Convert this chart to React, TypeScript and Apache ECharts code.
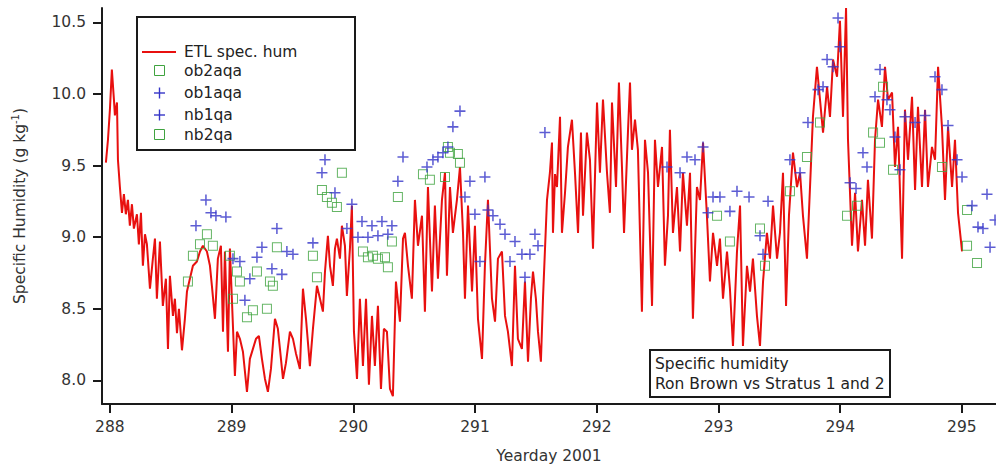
import React, { useEffect, useRef } from 'react';
import * as echarts from 'echarts';

const xTicks = [288, 289, 290, 291, 292, 293, 294, 295];
const yTicks = [8.0, 8.5, 9.0, 9.5, 10.0, 10.5];

// ETL specific humidity (yearday, g/kg)
const etlSpecHum: [number, number][] = [
  [287.967, 9.52], [287.984, 9.68], [288.0, 9.89], [288.016, 10.17], [288.033, 9.96], [288.041, 9.85],
  [288.058, 9.94], [288.066, 9.54], [288.082, 9.35], [288.099, 9.17], [288.115, 9.3], [288.131, 9.16],
  [288.148, 9.26], [288.164, 9.08], [288.181, 9.23], [288.197, 9.06], [288.222, 9.16], [288.238, 8.95],
  [288.255, 9.17], [288.271, 8.8], [288.288, 9.02], [288.304, 8.95], [288.329, 8.64], [288.353, 8.85],
  [288.37, 8.99], [288.386, 8.57], [288.411, 8.97], [288.435, 8.52], [288.46, 8.71], [288.477, 8.22],
  [288.493, 8.73], [288.518, 8.45], [288.534, 8.57], [288.551, 8.33], [288.567, 8.5], [288.592, 8.21],
  [288.616, 8.43], [288.633, 8.62], [288.657, 8.71], [288.682, 8.8], [288.715, 8.83], [288.74, 8.9],
  [288.764, 8.94], [288.797, 8.9], [288.822, 8.8], [288.838, 8.66], [288.863, 8.43], [288.887, 8.85],
  [288.912, 8.94], [288.929, 8.34], [288.945, 8.9], [288.97, 8.2], [288.986, 8.92], [289.002, 8.57],
  [289.027, 8.03], [289.044, 8.34], [289.068, 8.29], [289.093, 8.2], [289.126, 7.92], [289.15, 8.15],
  [289.175, 8.22], [289.2, 8.29], [289.224, 8.31], [289.249, 8.15], [289.274, 8.01], [289.298, 7.92],
  [289.323, 8.08], [289.356, 8.43], [289.38, 8.36], [289.397, 8.22], [289.422, 8.01], [289.446, 8.12],
  [289.479, 8.34], [289.504, 8.29], [289.528, 8.19], [289.561, 8.08], [289.586, 8.64], [289.611, 8.43],
  [289.643, 8.1], [289.668, 8.36], [289.701, 8.66], [289.726, 8.57], [289.75, 8.48], [289.767, 8.76],
  [289.791, 9.01], [289.808, 8.8], [289.832, 8.66], [289.849, 8.92], [289.865, 8.99], [289.89, 8.85],
  [289.906, 9.08], [289.931, 8.94], [289.947, 8.59], [289.972, 8.92], [289.988, 9.22], [290.005, 8.34],
  [290.03, 8.01], [290.054, 8.57], [290.079, 8.1], [290.104, 8.57], [290.128, 7.97], [290.153, 8.45],
  [290.177, 8.1], [290.202, 8.52], [290.227, 7.94], [290.251, 8.36], [290.276, 8.34], [290.301, 7.94],
  [290.325, 7.89], [290.35, 8.69], [290.383, 8.41], [290.408, 8.99], [290.424, 9.03], [290.449, 8.8],
  [290.481, 8.57], [290.506, 9.26], [290.531, 8.94], [290.564, 9.15], [290.588, 8.48], [290.613, 9.35],
  [290.646, 8.62], [290.67, 9.22], [290.695, 8.71], [290.728, 9.26], [290.753, 9.45], [290.769, 8.73],
  [290.794, 9.35], [290.818, 9.03], [290.851, 9.26], [290.876, 9.49], [290.901, 9.03], [290.917, 8.57],
  [290.942, 9.22], [290.975, 8.62], [290.999, 9.08], [291.024, 8.43], [291.057, 8.15], [291.081, 8.8],
  [291.106, 9.26], [291.139, 8.57], [291.164, 8.41], [291.188, 8.85], [291.221, 8.9], [291.246, 8.45],
  [291.27, 8.34], [291.303, 8.1], [291.328, 8.8], [291.352, 8.29], [291.385, 8.22], [291.41, 8.69],
  [291.435, 8.13], [291.459, 8.57], [291.476, 8.76], [291.5, 8.57], [291.517, 8.34], [291.541, 8.13],
  [291.558, 8.57], [291.591, 9.26], [291.615, 9.45], [291.632, 9.66], [291.64, 9.03], [291.657, 9.44],
  [291.673, 9.35], [291.698, 9.84], [291.714, 9.03], [291.739, 9.31], [291.763, 9.63], [291.796, 9.82],
  [291.821, 9.45], [291.846, 9.03], [291.87, 9.73], [291.887, 9.15], [291.919, 9.73], [291.944, 9.54],
  [291.969, 8.92], [292.002, 9.94], [292.026, 9.45], [292.051, 9.96], [292.084, 9.45], [292.108, 9.17],
  [292.125, 9.94], [292.158, 9.35], [292.182, 10.08], [292.207, 9.49], [292.224, 9.03], [292.256, 9.73],
  [292.273, 10.08], [292.289, 9.61], [292.314, 9.82], [292.338, 9.61], [292.371, 8.48], [292.396, 9.68],
  [292.421, 9.45], [292.454, 8.52], [292.478, 9.68], [292.503, 9.35], [292.536, 9.63], [292.56, 8.8],
  [292.585, 9.15], [292.601, 9.75], [292.626, 9.03], [292.659, 9.35], [292.684, 8.9], [292.708, 9.45],
  [292.741, 9.08], [292.766, 9.45], [292.79, 8.43], [292.823, 9.35], [292.848, 9.26], [292.873, 9.66],
  [292.905, 9.15], [292.93, 8.69], [292.955, 9.03], [292.988, 8.8], [293.012, 8.99], [293.037, 8.57],
  [293.07, 8.9], [293.094, 8.64], [293.119, 8.24], [293.152, 8.9], [293.177, 9.22], [293.201, 8.24],
  [293.234, 8.8], [293.259, 8.62], [293.283, 8.85], [293.316, 8.45], [293.341, 8.24], [293.366, 8.69],
  [293.398, 9.03], [293.423, 8.85], [293.448, 9.22], [293.481, 8.85], [293.505, 9.03], [293.53, 9.45],
  [293.555, 8.52], [293.579, 9.15], [293.612, 9.59], [293.645, 9.35], [293.67, 9.45], [293.694, 9.15],
  [293.727, 8.85], [293.752, 9.35], [293.776, 9.84], [293.809, 10.19], [293.834, 9.96], [293.859, 9.73],
  [293.892, 10.05], [293.916, 9.84], [293.941, 10.24], [293.974, 10.12], [293.998, 10.51], [294.023, 9.84],
  [294.048, 10.6], [294.064, 9.68], [294.097, 8.94], [294.122, 9.31], [294.146, 8.9], [294.179, 9.26],
  [294.204, 8.94], [294.228, 9.4], [294.261, 8.99], [294.286, 9.68], [294.311, 9.96], [294.343, 9.77],
  [294.368, 10.19], [294.393, 9.96], [294.426, 10.01], [294.45, 9.49], [294.475, 9.77], [294.508, 8.85],
  [294.532, 9.89], [294.557, 9.54], [294.59, 9.98], [294.615, 9.33], [294.639, 9.91], [294.672, 9.35],
  [294.697, 9.89], [294.721, 9.35], [294.754, 9.63], [294.779, 9.54], [294.804, 10.19], [294.836, 9.77],
  [294.861, 9.26], [294.886, 9.77], [294.919, 9.35], [294.943, 9.68], [294.968, 9.17], [295.001, 8.9],
];

// Stratus buoy samples (yearday, g/kg)
const ob2aqa: [number, number][] = [
  [288.641, 8.69], [288.682, 8.87], [288.74, 8.95], [288.797, 9.02], [288.846, 8.94], [288.986, 8.87],
  [289.011, 8.57], [289.044, 8.76], [289.068, 8.69], [289.126, 8.44], [289.175, 8.49], [289.208, 8.76],
  [289.29, 8.5], [289.315, 8.69], [289.339, 8.66], [289.372, 8.93], [289.668, 8.87], [289.701, 8.72],
  [289.742, 9.33], [289.783, 9.28], [289.824, 9.24], [289.865, 9.21], [289.906, 9.45], [290.079, 8.9],
  [290.12, 8.86], [290.161, 8.87], [290.202, 8.85], [290.26, 8.86], [290.284, 8.79], [290.317, 8.97],
  [290.366, 9.28], [290.572, 9.44], [290.629, 9.4], [290.753, 9.42], [290.777, 9.63], [290.794, 9.59],
  [290.859, 9.58], [290.876, 9.52],
];

const ob1aqa: [number, number][] = [
  [288.707, 9.08], [288.789, 9.26], [288.83, 9.17], [288.871, 9.15], [288.953, 9.14], [289.011, 8.85],
  [289.068, 8.83], [289.109, 8.56], [289.15, 8.71], [289.208, 8.86], [289.249, 8.93], [289.331, 8.78],
  [289.372, 9.06], [289.413, 8.74], [289.454, 8.9], [289.504, 8.88], [289.668, 8.96], [289.742, 9.45],
  [289.767, 9.54], [289.849, 9.31], [289.947, 9.06], [289.988, 9.23], [290.038, 9.0], [290.071, 9.11],
  [290.12, 9.0], [290.153, 9.08], [290.202, 9.01], [290.235, 9.11], [290.284, 9.02], [290.317, 9.08],
  [290.366, 9.39], [290.408, 9.56], [290.605, 9.49], [290.654, 9.54], [290.695, 9.56], [290.736, 9.59],
  [290.777, 9.63], [290.818, 9.77], [290.876, 9.88], [290.917, 9.28], [290.958, 9.39], [290.999, 9.16],
  [291.04, 8.83], [291.081, 9.42], [291.106, 9.19], [291.147, 9.15], [291.205, 9.09], [291.246, 9.02],
  [291.287, 8.83], [291.328, 8.97], [291.385, 8.88], [291.41, 8.72], [291.451, 8.88], [291.492, 9.02],
  [291.517, 8.94], [291.574, 9.73],
];

const nb1qa: [number, number][] = [
  [292.577, 9.49], [292.684, 9.45], [292.741, 9.56], [292.807, 9.54], [292.873, 9.63], [292.914, 9.17],
  [292.955, 9.28], [293.012, 9.28], [293.094, 9.18], [293.152, 9.32], [293.251, 9.28], [293.341, 9.01],
  [293.366, 8.88], [293.407, 9.25], [293.587, 9.54], [293.67, 9.45], [293.735, 9.8], [293.818, 10.03],
  [293.859, 10.05], [293.892, 10.24], [293.941, 10.19], [293.982, 10.53], [293.998, 10.33], [294.081, 9.38],
  [294.13, 9.34], [294.187, 9.59], [294.22, 9.49], [294.286, 9.98], [294.327, 10.17], [294.384, 9.96],
  [294.409, 9.89], [294.45, 9.7], [294.491, 9.47], [294.532, 9.84], [294.615, 9.8], [294.697, 9.85],
  [294.779, 10.12], [294.836, 10.03], [294.886, 9.78], [294.96, 9.54], [295.001, 9.42], [295.083, 9.22],
  [295.132, 9.07], [295.173, 9.06], [295.206, 9.3], [295.231, 8.93], [295.272, 9.12],
];

const nb2qa: [number, number][] = [
  [292.988, 9.15], [293.094, 8.97], [293.341, 9.06], [293.382, 8.8], [293.587, 9.32], [293.727, 9.56],
  [293.834, 9.8], [294.056, 9.15], [294.138, 9.22], [294.27, 9.73], [294.327, 9.66], [294.352, 10.05],
  [294.434, 9.47], [294.836, 9.49], [295.042, 9.19], [295.042, 8.94], [295.124, 8.82],
];

const seriesNames = ['ETL spec. hum', 'ob2aqa', 'ob1aqa', 'nb1qa', 'nb2qa'];
const noteLines = ['Specific humidity', 'Ron Brown vs Stratus 1 and 2'];

const RED = '#e8100f';
const GREEN = '#3fa33f';
const BLUE = '#3535c8';
const INK = '#1a1a1a';
const FONT = 'DejaVu Sans';
const FS = 15.5;

const SQUARE = 'path://M0,0H10V10H0Z M1,1V9H9V1H1Z';
const PLUS = 'path://M4.3,0H5.7V4.3H10V5.7H5.7V10H4.3V5.7H0V4.3H4.3Z';

export default function App() {
  const ref = useRef<HTMLDivElement>(null);
  useEffect(() => {
    if (!ref.current) return;
    const chart = echarts.init(ref.current, null, { renderer: 'svg' });

    const legendRows = [52, 71, 93, 115, 135];
    const legendGraphics: any[] = [
      {
        type: 'rect', shape: { x: 137, y: 17, width: 218, height: 133 },
        style: { fill: '#fff', stroke: INK, lineWidth: 2 }, silent: true, z: 10,
      },
      {
        type: 'line', shape: { x1: 142, y1: legendRows[0], x2: 176, y2: legendRows[0] },
        style: { stroke: RED, lineWidth: 2 }, silent: true, z: 11,
      },
    ];
    [1, 4].forEach((i) => {
      legendGraphics.push({
        type: 'rect', shape: { x: 154.5, y: legendRows[i] - 5.5, width: 10, height: 10 },
        style: { fill: 'none', stroke: GREEN, lineWidth: 1 }, silent: true, z: 11,
      });
    });
    [2, 3].forEach((i) => {
      legendGraphics.push(
        { type: 'line', shape: { x1: 154, y1: legendRows[i], x2: 165, y2: legendRows[i] }, style: { stroke: BLUE, lineWidth: 1.4 }, silent: true, z: 11 },
        { type: 'line', shape: { x1: 159.5, y1: legendRows[i] - 5.5, x2: 159.5, y2: legendRows[i] + 5.5 }, style: { stroke: BLUE, lineWidth: 1.4 }, silent: true, z: 11 },
      );
    });
    seriesNames.forEach((n, i) => {
      legendGraphics.push({
        type: 'text', x: 184, y: legendRows[i],
        style: { text: n, fill: '#222', font: `${FS}px "${FONT}"`, verticalAlign: 'middle', align: 'left' },
        silent: true, z: 11,
      });
    });

    chart.setOption({
      animation: false,
      backgroundColor: '#fff',
      grid: { left: 102, right: 0, top: 8, bottom: 63, containLabel: false },
      xAxis: {
        type: 'value', min: 287.935, max: 295.28,
        name: 'Yearday 2001', nameLocation: 'middle', nameGap: 44,
        nameTextStyle: { fontFamily: FONT, fontSize: FS, color: '#333' },
        axisLine: { show: true, lineStyle: { color: INK, width: 2 } },
        axisTick: { show: true, inside: false, length: 9, customValues: xTicks, lineStyle: { color: INK, width: 2 } },
        axisLabel: { customValues: xTicks, margin: 15, fontFamily: FONT, fontSize: FS, color: '#333' },
        splitLine: { show: false },
      },
      yAxis: {
        type: 'value', min: 7.835, max: 10.6,
        axisLine: { show: true, lineStyle: { color: INK, width: 2 } },
        axisTick: { show: true, inside: false, length: 9, customValues: yTicks, lineStyle: { color: INK, width: 2 } },
        axisLabel: {
          customValues: yTicks, margin: 16, fontFamily: FONT, fontSize: FS, color: '#333',
          formatter: (v: number) => v.toFixed(1),
        },
        splitLine: { show: false },
      },
      series: [
        {
          name: seriesNames[0], type: 'line', data: etlSpecHum, symbol: 'none', showSymbol: false,
          lineStyle: { color: RED, width: 2 }, z: 2, clip: true,
        },
        { name: seriesNames[1], type: 'scatter', data: ob2aqa, symbol: SQUARE, symbolSize: 10, itemStyle: { color: GREEN }, z: 3 },
        { name: seriesNames[2], type: 'scatter', data: ob1aqa, symbol: PLUS, symbolSize: 11, itemStyle: { color: BLUE }, z: 4 },
        { name: seriesNames[3], type: 'scatter', data: nb1qa, symbol: PLUS, symbolSize: 11, itemStyle: { color: BLUE }, z: 4 },
        { name: seriesNames[4], type: 'scatter', data: nb2qa, symbol: SQUARE, symbolSize: 10, itemStyle: { color: GREEN }, z: 3 },
      ],
      graphic: [
        ...legendGraphics,
        {
          type: 'rect', shape: { x: 650, y: 350, width: 240, height: 47 },
          style: { fill: '#fff', stroke: INK, lineWidth: 2 }, silent: true, z: 10,
        },
        {
          type: 'text', x: 655, y: 364,
          style: { text: noteLines[0], fill: '#222', font: `${FS}px "${FONT}"`, verticalAlign: 'middle' },
          silent: true, z: 11,
        },
        {
          type: 'text', x: 655, y: 384,
          style: { text: noteLines[1], fill: '#222', font: `${FS}px "${FONT}"`, verticalAlign: 'middle' },
          silent: true, z: 11,
        },
        {
          type: 'text', x: 20, y: 206, rotation: Math.PI / 2,
          style: {
            text: 'Specific Humidity (g kg{sup|-1})',
            fill: '#333', fontFamily: FONT, fontSize: FS, lineHeight: 19,
            align: 'center', verticalAlign: 'middle',
            rich: { sup: { fontFamily: FONT, fontSize: 10, lineHeight: 10, verticalAlign: 'top', fill: '#333' } },
          },
          silent: true, z: 11,
        },
      ],
    });
    return () => chart.dispose();
  }, []);
  return <div ref={ref} style={{ position: 'fixed', left: 0, top: 0, width: 996, height: 469 }} />;
}
